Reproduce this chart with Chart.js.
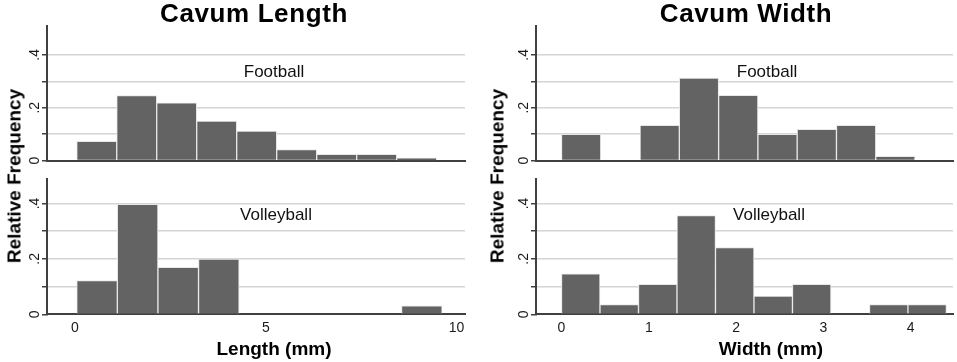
<!DOCTYPE html>
<html>
<head>
<meta charset="utf-8">
<script src="https://cdn.jsdelivr.net/npm/chart.js@4.4.0/dist/chart.umd.min.js"></script>
<style>
    body { margin: 0; background: #fff; font-family: "Liberation Sans", Arial, sans-serif; }
    #page { position: relative; width: 957px; height: 362px; overflow: hidden; }
    canvas { position: absolute; }
    .lbl { position: absolute; transform: translate(-50%, -50%); white-space: nowrap; line-height: 1; color: #000; }
    .title { font-size: 26px; font-weight: bold; letter-spacing: 0.6px; }
    .axis { font-size: 19px; font-weight: bold; }
    .ytitle { transform: translate(-50%, -50%) rotate(-90deg); }
    .sub { font-size: 17px; color: #111; }
</style>
</head>
<body>
<div id="page">
    <canvas id="lenFoot" width="450" height="170" style="left:20px;top:0px"></canvas>
    <canvas id="lenVolley" width="450" height="170" style="left:20px;top:170px"></canvas>
    <canvas id="widFoot" width="457" height="170" style="left:500px;top:0px"></canvas>
    <canvas id="widVolley" width="457" height="170" style="left:500px;top:170px"></canvas>

    <div class="lbl title" style="left:254px;top:13px">Cavum Length</div>
    <div class="lbl title" style="left:746px;top:13px">Cavum Width</div>
    <div class="lbl axis ytitle" style="left:13.5px;top:176px">Relative Frequency</div>
    <div class="lbl axis ytitle" style="left:497px;top:176px">Relative Frequency</div>
    <div class="lbl axis" style="left:274px;top:348px">Length (mm)</div>
    <div class="lbl axis" style="left:771px;top:348px">Width (mm)</div>
    <div class="lbl sub" style="left:274px;top:71px">Football</div>
    <div class="lbl sub" style="left:276px;top:214px">Volleyball</div>
    <div class="lbl sub" style="left:767px;top:71px">Football</div>
    <div class="lbl sub" style="left:769px;top:214px">Volleyball</div>
</div>
<script>
// tick labels
const lengthTicks = [0, 5, 10];
const widthTicks = [0, 1, 2, 3, 4];
const freqTicks = [0, 0.1, 0.2, 0.3, 0.4];
const freqTickLabels = ['0', '', '.2', '', '.4'];

// histogram bins (first edge, bin width) and relative frequencies
const lengthFootballStart = 0.045, lengthFootballBin = 1.048;
const lengthFootball = [0.073, 0.246, 0.218, 0.149, 0.112, 0.042, 0.024, 0.024, 0.010];
const lengthVolleyStart = 0.045, lengthVolleyBin = 1.064;
const lengthVolleyball = [0.122, 0.397, 0.170, 0.199, 0, 0, 0, 0, 0.031];

const widthFootballStart = 0, widthFootballBin = 0.45;
const widthFootball = [0.099, 0, 0.133, 0.312, 0.247, 0.099, 0.118, 0.133, 0.016];
const widthVolleyStart = 0, widthVolleyBin = 0.441;
const widthVolleyball = [0.146, 0.035, 0.108, 0.356, 0.241, 0.066, 0.108, 0, 0.035, 0.035];

const barColor = '#636363';
const barEdge = '#e8e8e8';
const axisColor = '#404040';
const gridColor = '#d4d4d4';

Chart.defaults.font.family = '"Liberation Sans", Arial, sans-serif';
Chart.defaults.color = '#1a1a1a';

function makeHist(id, start, binWidth, values, xRange, xTicks, showX, yMax, pad, yWidth, xHeight) {
    const points = values.map((v, i) => ({ x: start + binWidth * (i + 0.5), y: v }));
    new Chart(document.getElementById(id), {
        type: 'bar',
        data: {
            datasets: [{
                data: points,
                backgroundColor: barColor,
                borderColor: barEdge,
                borderWidth: 1,
                barPercentage: 1,
                categoryPercentage: 1
            }]
        },
        options: {
            responsive: false,
            animation: false,
            devicePixelRatio: 1,
            layout: { padding: pad },
            plugins: { legend: { display: false }, tooltip: { enabled: false } },
            scales: {
                x: {
                    type: 'linear',
                    min: xRange[0],
                    max: xRange[1],
                    offset: false,
                    z: 1,
                    afterBuildTicks: s => { s.ticks = xTicks.map(v => ({ value: v })); },
                    afterFit: s => { s.height = xHeight; },
                    grid: { display: false, drawTicks: false },
                    border: { display: true, color: axisColor, width: 2 },
                    ticks: {
                        display: showX,
                        autoSkip: false,
                        maxRotation: 0,
                        padding: 5,
                        font: { size: 14 },
                        callback: v => String(v)
                    }
                },
                y: {
                    min: 0,
                    max: yMax,
                    afterBuildTicks: s => { s.ticks = freqTicks.map(v => ({ value: v })); },
                    afterFit: s => { s.width = yWidth; },
                    grid: {
                        color: c => (c.tick && c.tick.value === 0) ? 'rgba(0,0,0,0)' : gridColor,
                        lineWidth: 1.5,
                        tickColor: axisColor,
                        tickWidth: 1.5,
                        tickLength: 5
                    },
                    border: { display: true, color: axisColor, width: 2 },
                    ticks: {
                        autoSkip: false,
                        minRotation: 90,
                        maxRotation: 90,
                        crossAlign: 'center',
                        padding: 1,
                        font: { size: 14 },
                        callback: (v, i) => freqTickLabels[i]
                    }
                }
            }
        }
    });
}

makeHist('lenFoot', lengthFootballStart, lengthFootballBin, lengthFootball,
    [-0.734, 10.22], lengthTicks, false, 0.509, { top: 26, right: 5, left: 0, bottom: 0 }, 27, 4);
makeHist('lenVolley', lengthVolleyStart, lengthVolleyBin, lengthVolleyball,
    [-0.734, 10.22], lengthTicks, true, 0.487, { top: 5, right: 5, left: 0, bottom: 0 }, 27, 25.7);
makeHist('widFoot', widthFootballStart, widthFootballBin, widthFootball,
    [-0.292, 4.485], widthTicks, false, 0.509, { top: 26, right: 4, left: 0, bottom: 0 }, 36, 4);
makeHist('widVolley', widthVolleyStart, widthVolleyBin, widthVolleyball,
    [-0.292, 4.485], widthTicks, true, 0.487, { top: 5, right: 4, left: 0, bottom: 0 }, 36, 25.7);
</script>
</body>
</html>
